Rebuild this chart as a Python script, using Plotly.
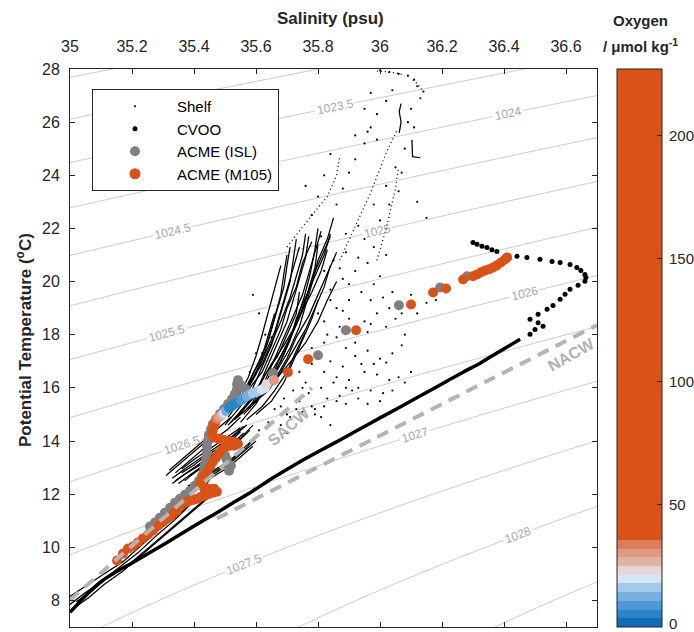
import numpy as np
import plotly.graph_objects as go

# ---------------- data ----------------
sal_ticks = [35, 35.2, 35.4, 35.6, 35.8, 36, 36.2, 36.4, 36.6]
temp_ticks = [8, 10, 12, 14, 16, 18, 20, 22, 24, 26, 28]
o2_ticks = [0, 50, 100, 150, 200]
density_start, density_end, density_step = 1022.5, 1028.5, 0.5

# CVOO: dense profile (drawn as a connected line) and sparse warm-water points
cvoo_line_S = [35.000, 35.048, 35.097, 35.145, 35.203, 35.258, 35.313, 35.371, 35.419, 35.474,
               35.526, 35.581, 35.635, 35.687, 35.742, 35.806, 35.871, 35.935, 36.000, 36.065,
               36.129, 36.194, 36.268, 36.323, 36.387, 36.452]
cvoo_line_T = [7.55, 8.15, 8.68, 9.05, 9.43, 9.80, 10.18, 10.59, 10.93, 11.30,
               11.68, 12.05, 12.47, 12.84, 13.22, 13.63, 14.04, 14.45, 14.87, 15.28,
               15.69, 16.11, 16.59, 16.93, 17.38, 17.83]
cvoo_dot_S = [36.484, 36.500, 36.484, 36.510, 36.526, 36.510, 36.539, 36.558, 36.581, 36.597,
              36.613, 36.639, 36.661, 36.664, 36.661, 36.648, 36.635, 36.613, 36.581, 36.555,
              36.516, 36.474, 36.442, 36.410, 36.377, 36.361, 36.345, 36.329, 36.313, 36.300]
cvoo_dot_T = [18.02, 18.20, 18.58, 18.45, 18.32, 18.77, 18.96, 19.10, 19.33, 19.52,
              19.71, 19.86, 20.01, 20.15, 20.27, 20.42, 20.53, 20.64, 20.72, 20.76,
              20.84, 20.91, 20.95, 20.98, 21.13, 21.20, 21.28, 21.33, 21.40, 21.47]

# Shelf: dense profiles (None separates profiles)
shelf_line_S = [
    35.000, 35.048, 35.097, 35.171, 35.226, 35.290, 35.355, 35.419, 35.452, None,
    35.000, 35.050, 35.100, 35.160, 35.220, 35.280, 35.340, 35.400, 35.440, None,
    35.020, 35.070, 35.120, 35.190, 35.250, 35.310, 35.370, 35.420, 35.470, None,
    35.010, 35.060, 35.110, 35.170, 35.230, 35.290, 35.350, 35.410, 35.460, None,
    35.33, 35.37, 35.42, 35.47, 35.52, 35.56, None,
    35.35, 35.39, 35.44, 35.49, 35.54, 35.58, None,
    35.36, 35.40, 35.45, 35.50, 35.55, None,
    35.38, 35.43, 35.48, 35.53, 35.57, 35.60, None,
    35.34, 35.38, 35.42, 35.46, 35.51, 35.55, None,
    35.40, 35.45, 35.50, 35.54, 35.58, None,
    35.32, 35.36, 35.40, 35.44, 35.48, 35.52, None,
    35.37, 35.41, 35.46, 35.51, 35.55, 35.59, None,
    35.39, 35.43, 35.47, 35.52, 35.56, None,
    35.34, 35.39, 35.43, 35.48, 35.53, None,
    35.41, 35.46, 35.51, 35.55, 35.59, None,
    35.33, 35.37, 35.42, 35.46, 35.51, 35.55, None,
    35.36, 35.40, 35.44, 35.49, 35.53, 35.57, None,
    35.31, 35.35, 35.39, 35.43, 35.47, None,
    35.42, 35.47, 35.52, 35.56, 35.60, None,
    35.50, 35.55, 35.59, 35.62, 35.65, 35.67, 35.69, 35.71, 35.72, 35.73, None,
    35.52, 35.57, 35.61, 35.64, 35.67, 35.70, 35.72, 35.74, 35.76, 35.77, None,
    35.54, 35.59, 35.63, 35.66, 35.69, 35.72, 35.75, 35.77, 35.79, 35.81, None,
    35.56, 35.61, 35.65, 35.68, 35.71, 35.74, 35.78, 35.81, 35.83, None,
    35.53, 35.57, 35.60, 35.63, 35.65, 35.67, 35.69, 35.70, 35.71, None,
    35.58, 35.63, 35.67, 35.71, 35.74, 35.76, 35.78, 35.80, 35.83, 35.85, None,
    35.60, 35.65, 35.69, 35.72, 35.75, 35.78, 35.80, None,
    35.55, 35.58, 35.61, 35.64, 35.66, 35.68, 35.69, 35.70, None,
    35.57, 35.62, 35.66, 35.70, 35.73, 35.76, None,
    35.51, 35.56, 35.60, 35.63, 35.66, 35.68, 35.70, 35.72, 35.74, None,
    35.55, 35.60, 35.64, 35.68, 35.71, 35.73, 35.76, 35.79, 35.82, 35.84, None,
    35.57, 35.62, 35.66, 35.69, 35.72, 35.75, 35.77, 35.79, 35.80, None,
    35.59, 35.64, 35.68, 35.72, 35.76, 35.79, 35.82, 35.84, None,
    35.54, 35.58, 35.62, 35.65, 35.68, 35.71, 35.73, 35.75, 35.76, None,
    35.61, 35.66, 35.70, 35.73, 35.77, 35.80, 35.83, 35.86, None,
    35.52, 35.56, 35.59, 35.62, 35.64, 35.66, None,
    35.50, 35.54, 35.575, 35.60, 35.62, 35.64, 35.66, 35.68, None,
    35.56, 35.61, 35.65, 35.69, 35.73, 35.76, 35.78, 35.81, 35.84, None,
    35.62, 35.67, 35.72, 35.76, 35.80, 35.83, 35.86, None,
    35.53, 35.58, 35.62, 35.66, 35.70, 35.73, 35.755, 35.775, 35.79, 35.80, None,
    35.58, 35.62, 35.65, 35.68, 35.70, 35.73, 35.75, 35.78, None,
    35.51, 35.55, 35.60, 35.63, 35.67, 35.70, 35.73, 35.74, None,
    36.062, 36.068, 36.062, 36.068, None,
    36.103, 36.103, 36.105, 36.130,
]
shelf_line_T = [
    8.15, 8.53, 8.90, 9.46, 10.03, 10.70, 11.26, 12.01, 12.58, None,
    7.85, 8.30, 8.70, 9.25, 9.80, 10.45, 11.05, 11.75, 12.30, None,
    7.95, 8.35, 8.85, 9.35, 9.95, 10.55, 11.15, 11.65, 12.20, None,
    7.70, 8.10, 8.60, 9.10, 9.70, 10.30, 10.90, 11.50, 12.00, None,
    12.60, 12.95, 13.35, 13.75, 14.15, 14.55, None,
    12.40, 12.75, 13.15, 13.55, 13.95, 14.40, None,
    12.95, 13.30, 13.70, 14.10, 14.50, None,
    12.30, 12.60, 12.95, 13.35, 13.75, 14.20, None,
    12.80, 13.20, 13.60, 14.00, 14.45, 14.90, None,
    12.45, 12.80, 13.15, 13.50, 13.95, None,
    12.90, 13.30, 13.70, 14.10, 14.50, 14.90, None,
    12.50, 12.90, 13.30, 13.70, 14.10, 14.60, None,
    12.70, 13.05, 13.45, 13.85, 14.30, None,
    12.50, 12.90, 13.25, 13.60, 14.00, None,
    12.30, 12.65, 13.00, 13.40, 13.80, None,
    12.40, 12.75, 13.10, 13.50, 13.90, 14.35, None,
    12.80, 13.10, 13.45, 13.80, 14.20, 14.60, None,
    12.70, 13.10, 13.50, 13.90, 14.30, None,
    12.50, 12.80, 13.20, 13.60, 14.00, None,
    14.6, 15.3, 16.0, 16.8, 17.6, 18.4, 19.2, 20.0, 20.8, 21.6, None,
    14.7, 15.4, 16.1, 16.9, 17.7, 18.5, 19.3, 20.1, 20.9, 21.7, None,
    14.9, 15.6, 16.3, 17.1, 17.9, 18.7, 19.5, 20.3, 21.1, 21.9, None,
    15.0, 15.6, 16.4, 17.2, 17.9, 18.7, 19.6, 20.4, 21.2, None,
    15.3, 15.9, 16.6, 17.4, 18.2, 19.0, 19.8, 20.6, 21.3, None,
    15.5, 16.0, 16.7, 17.5, 18.3, 19.1, 19.9, 20.8, 21.6, 22.4, None,
    15.0, 15.5, 16.2, 17.0, 17.8, 18.6, 19.3, None,
    15.6, 16.3, 17.0, 17.8, 18.6, 19.5, 20.3, 21.0, None,
    14.8, 15.3, 15.9, 16.6, 17.4, 18.1, None,
    14.9, 15.7, 16.5, 17.3, 18.1, 18.9, 19.7, 20.5, 21.3, None,
    14.7, 15.4, 16.2, 17.0, 17.8, 18.6, 19.4, 20.2, 21.0, 21.8, None,
    15.2, 15.8, 16.5, 17.3, 18.1, 18.9, 19.7, 20.5, 21.4, None,
    15.4, 15.9, 16.6, 17.4, 18.2, 19.0, 19.8, 20.6, None,
    15.5, 16.2, 16.9, 17.7, 18.5, 19.4, 20.2, 21.0, 21.8, None,
    15.6, 16.3, 17.1, 17.9, 18.7, 19.5, 20.3, 21.1, None,
    15.1, 15.8, 16.5, 17.2, 18.0, 18.8, None,
    14.9, 15.6, 16.4, 17.2, 18.0, 18.9, 19.8, 20.6, None,
    15.4, 16.1, 16.9, 17.6, 18.4, 19.3, 20.1, 20.9, 21.7, None,
    15.8, 16.4, 17.1, 17.7, 18.5, 19.3, 20.0, None,
    14.8, 15.3, 16.0, 16.8, 17.6, 18.5, 19.4, 20.3, 21.2, 22.0, None,
    16.0, 16.6, 17.4, 18.2, 19.0, 19.8, 20.7, 21.5, None,
    14.6, 15.1, 15.8, 16.5, 17.2, 18.0, 18.8, 19.6, None,
    25.6, 26.0, 26.4, 26.7, None,
    25.34, 25.0, 24.70, 24.66,
]
# Shelf: sparse warm profiles (dotted)
shelf_upper_S = [35.70, 35.76, 35.83, 35.86, 35.87, None,
                 35.87, 35.92, 35.97, 36.02, 36.055, None,
                 35.99, 36.02, 36.05, 36.06, None,
                 36.106, 36.120, 36.130, 36.139, None,
                 35.990, 36.020, 36.050, 36.070]
shelf_upper_T = [21.3, 22.2, 23.2, 24.0, 24.7, None,
                 20.8, 22.1, 23.35, 24.85, 25.7, None,
                 20.8, 22.0, 23.5, 24.3, None,
                 27.59, 27.45, 27.30, 27.14, None,
                 27.92, 27.90, 27.85, 27.80]
# Shelf: scattered single points
shelf_dot_S = [
    35.78, 35.82, 35.86, 35.90, 35.93, 35.97, 36.01, 36.04, 35.80, 35.84, 35.88, 35.95, 35.99,
    36.03, 36.06, 35.76, 35.72, 35.69, 35.74, 35.78, 35.83, 35.87, 35.91, 35.66, 35.70, 35.64,
    35.68, 35.61, 35.73, 35.85, 35.94, 36.00, 35.96, 35.89, 35.92, 35.98, 36.02, 35.62, 35.65,
    35.83, 35.87, 35.90, 35.95, 35.99, 36.03, 36.07, 35.86, 35.90, 35.94, 35.98, 35.84, 35.88,
    35.92, 35.96, 36.00, 36.04, 36.10, 36.15, 35.85, 35.89, 35.82, 35.80, 35.96, 36.02, 36.08,
    35.86, 35.88, 35.90, 35.92, 35.95, 35.97, 35.99, 36.02, 36.04, 36.00, 36.03, 36.06, 36.09,
    36.11, 36.12, 36.14, 36.13, 36.10, 36.09, 36.11, 36.08, 36.05, 36.02, 35.98, 35.93, 35.95,
    36.00, 36.03, 36.06, 35.78, 35.80, 35.82, 35.84, 35.76, 35.92, 35.95, 35.97, 36.07, 36.12,
    36.15, 35.96, 35.99, 35.58, 35.60, 35.63, 35.61, 35.59, 35.75, 35.79, 35.81, 35.84,
    35.71, 35.75, 35.79, 35.82, 35.86, 35.89, 35.93, 35.96, 36.00, 35.68, 35.77, 35.81, 35.89,
    36.08, 36.10, 35.74, 35.78, 35.82, 35.86, 35.93, 35.97, 36.05, 36.12, 36.18, 35.90, 35.97,
    36.01, 35.87, 35.93, 35.98, 36.02, 35.81, 35.89, 35.84, 35.88, 35.82, 35.92, 36.04, 36.07,
    35.70,
]
shelf_dot_T = [
    16.9, 16.6, 16.4, 16.3, 16.0, 15.9, 15.8, 15.9, 17.2, 17.0, 16.8, 16.6, 16.5,
    16.3, 16.4, 16.2, 15.9, 15.6, 15.5, 15.3, 15.6, 15.7, 15.9, 15.2, 15.0, 14.7,
    14.6, 14.4, 15.2, 16.2, 16.9, 17.1, 17.4, 17.5, 17.7, 16.9, 16.95, 17.3, 17.9,
    18.0, 18.3, 18.6, 18.5, 18.8, 19.0, 18.8, 19.0, 19.3, 19.6, 19.9, 19.7, 20.1,
    20.4, 20.7, 20.2, 19.6, 19.5, 19.2, 20.8, 21.1, 20.4, 18.8, 18.1, 18.3, 18.0,
    22.9, 23.5, 24.1, 24.6, 25.2, 25.8, 26.3, 26.8, 27.2, 27.95, 27.88, 27.82, 27.75,
    27.6, 27.35, 27.15, 26.9, 26.5, 26.0, 25.8, 25.0, 24.3, 23.6, 22.9, 22.1, 21.6,
    22.3, 22.9, 23.4, 22.5, 23.2, 24.0, 24.8, 23.6, 25.5, 26.5, 27.1, 24.1, 23.0,
    22.4, 25.64, 25.34, 16.6, 17.3, 18.0, 18.8, 19.5, 16.0, 15.2, 14.9, 14.6,
    14.9, 15.1, 15.0, 15.3, 15.5, 15.4, 15.6, 15.4, 15.5, 15.3, 15.8, 16.0, 16.0,
    16.2, 16.6, 16.6, 17.5, 17.7, 17.9, 18.2, 18.4, 18.6, 18.8, 19.3, 19.9, 19.3,
    19.4, 20.5, 20.9, 21.3, 21.0, 21.7, 21.8, 19.3, 18.9, 18.5, 17.2, 17.3, 17.6,
    14.3,
]

# ACME (ISL) and ACME (M105, colour = oxygen)
isl_S = [35.258, 35.274, 35.290, 35.306, 35.323, 35.339, 35.355, 35.371, 35.387, 35.403,
         35.416, 35.426, 35.432, 35.435, 35.439, 35.442, 35.442, 35.445, 35.448, 35.455,
         35.461, 35.471, 35.484, 35.497, 35.510, 35.523, 35.532, 35.539, 35.539, 35.542,
         35.555, 35.568, 35.506, 35.519, 35.513, 35.500,
         35.655, 35.800, 35.890, 36.061, 36.194, 36.281]
isl_T = [10.78, 10.93, 11.11, 11.30, 11.49, 11.68, 11.83, 11.98, 12.13, 12.32,
         12.50, 12.69, 12.88, 13.10, 13.33, 13.55, 13.78, 14.00, 14.23, 14.45,
         14.64, 14.83, 15.02, 15.20, 15.39, 15.58, 15.77, 15.95, 16.14, 16.29,
         16.07, 15.95, 13.29, 13.07, 12.88, 13.45,
         16.56, 17.23, 18.17, 19.11, 19.78, 20.20]

m105_S = [35.152, 35.171, 35.187, 35.203, 35.219, 35.235, 35.252, 35.268, 35.284, 35.300,
          35.313, 35.323, 35.335, 35.345, 35.355, 35.365, 35.377, 35.387, 35.400, 35.410,
          35.423, 35.435, 35.448, 35.461, 35.474, 35.465, 35.448, 35.432, 35.419, 35.426,
          35.432, 35.442, 35.452, 35.461, 35.471, 35.481, 35.490, 35.503, 35.516, 35.529,
          35.542, 35.529, 35.513, 35.497, 35.481, 35.465, 35.458, 35.461, 35.465, 35.468,
          35.474, 35.481, 35.490, 35.497, 35.503, 35.513, 35.523, 35.532, 35.542, 35.552,
          35.561, 35.571, 35.581, 35.590, 35.600, 35.610, 35.619, 35.629, 35.635, 35.658,
          35.703, 35.768, 35.923, 36.100, 36.171, 36.213, 36.268, 36.300, 36.313, 36.326,
          36.339, 36.352, 36.365, 36.377, 36.390, 36.403, 36.410]
m105_T = [9.50, 9.76, 9.95, 10.03, 10.18, 10.33, 10.48, 10.63, 10.81, 10.96,
          11.08, 11.15, 11.30, 11.38, 11.53, 11.64, 11.71, 11.75, 11.79, 11.83,
          11.90, 11.94, 12.01, 12.05, 12.09, 12.20, 12.20, 12.24, 12.39, 12.54,
          12.69, 12.84, 13.03, 13.22, 13.37, 13.55, 13.67, 13.78, 13.82, 13.82,
          13.89, 13.97, 14.00, 14.04, 14.08, 14.12, 14.27, 14.42, 14.57, 14.68,
          14.83, 14.90, 14.98, 15.05, 15.13, 15.24, 15.32, 15.39, 15.47, 15.54,
          15.62, 15.69, 15.75, 15.80, 15.84, 15.88, 15.94, 16.00, 16.14, 16.29,
          16.59, 17.08, 18.17, 19.14, 19.59, 19.74, 20.08, 20.20, 20.27, 20.35,
          20.42, 20.46, 20.53, 20.61, 20.72, 20.83, 20.91]
m105_O2 = [205, 203, 200, 198, 196, 193, 190, 188, 185, 182,
           180, 178, 176, 172, 170, 168, 165, 162, 160, 158,
           155, 152, 150, 148, 146, 140, 135, 130, 125, 120,
           115, 110, 105, 100, 95, 90, 85, 80, 78, 75,
           72, 70, 66, 62, 58, 52, 48, 44, 40, 38,
           32, 29, 25, 21, 14, 6, 4, 5, 7, 9,
           10, 12, 13, 15, 16, 17, 19, 20, 24, 29,
           60, 90, 140, 170, 185, 190, 195, 198, 200, 202,
           204, 205, 206, 207, 208, 209, 210]

# water-mass reference lines
sacw_S = [34.95, 35.78]
sacw_T = [7.50, 16.00]
nacw_S = [35.474, 36.70]
nacw_T = [11.08, 18.36]

# oxygen colour map (64 levels over 0-227, lowest 10 levels diverge blue-white-orange)
o2_max = 227
o2_low_colors = ['#0f6db6', '#2a84c7', '#4e98d3', '#77b0de', '#a4cae9',
                 '#d3e5f6', '#e2d8da', '#dfb2a5', '#df9a82', '#dc7c5c']
orange = '#D95319'
n_levels = 64

# ---------------- helpers ----------------
def seawater_density(S, T):
    """UNESCO (1981) one-atmosphere equation of state, kg m^-3."""
    rw = (999.842594 + 6.793952e-2 * T - 9.095290e-3 * T**2 + 1.001685e-4 * T**3
          - 1.120083e-6 * T**4 + 6.536332e-9 * T**5)
    a = 0.824493 - 4.0899e-3 * T + 7.6438e-5 * T**2 - 8.2467e-7 * T**3 + 5.3875e-9 * T**4
    b = -5.72466e-3 + 1.0227e-4 * T - 1.6546e-6 * T**2
    return rw + a * S + b * S**1.5 + 4.8314e-4 * S**2

grid_S = np.linspace(34.9, 36.8, 160)
grid_T = np.linspace(6.5, 28.5, 180)
SS, TT = np.meshgrid(grid_S, grid_T)
RHO = seawater_density(SS, TT)

colorscale = []
for i in range(n_levels):
    c = o2_low_colors[i] if i < len(o2_low_colors) else orange
    colorscale.append([i / n_levels, c])
    colorscale.append([(i + 1) / n_levels, c])

FONT = 'Liberation Sans, Arial, Helvetica, sans-serif'
DARK = '#262626'

# pixel layout of the figure
W, H = 694, 632
L, R, T_, B = 70, 597, 69, 627
pw, ph = R - L, B - T_

def px_x(px):
    return (px - L) / pw

def px_y(py):
    return 1 - (py - T_) / ph

fig = go.Figure()

fig.add_trace(go.Contour(
    x=grid_S, y=grid_T, z=RHO, showscale=False, hoverinfo='skip', showlegend=False,
    contours=dict(start=density_start, end=density_end, size=density_step,
                  coloring='none', showlabels=True, labelformat='.5~g',
                  labelfont=dict(size=12, color='#a8a8a8', family=FONT)),
    line=dict(color='#c4c4c4', width=0.9),
))

# Shelf
fig.add_trace(go.Scatter(x=shelf_line_S, y=shelf_line_T, mode='lines',
                         line=dict(color='black', width=1.25), showlegend=False,
                         hoverinfo='skip'))
fig.add_trace(go.Scatter(x=shelf_upper_S, y=shelf_upper_T, mode='lines',
                         line=dict(color='black', width=1.3, dash='1px,3px'),
                         showlegend=False, hoverinfo='skip'))
fig.add_trace(go.Scatter(x=shelf_dot_S, y=shelf_dot_T, mode='markers', name='Shelf',
                         marker=dict(color='black', size=2.2)))
# CVOO
fig.add_trace(go.Scatter(x=cvoo_line_S, y=cvoo_line_T, mode='lines',
                         line=dict(color='black', width=3.5, shape='spline', smoothing=0.6),
                         showlegend=False, hoverinfo='skip'))
fig.add_trace(go.Scatter(x=cvoo_dot_S, y=cvoo_dot_T, mode='markers', name='CVOO',
                         marker=dict(color='black', size=5)))
# ACME ISL
fig.add_trace(go.Scatter(x=isl_S, y=isl_T, mode='markers', name='ACME (ISL)',
                         marker=dict(color='#808080', size=10)))
# legend entry for M105
fig.add_trace(go.Scatter(x=[None], y=[None], mode='markers', name='ACME (M105)',
                         marker=dict(color=orange, size=11)))
fig.add_trace(go.Scatter(
    x=m105_S, y=m105_T, mode='markers', showlegend=False,
    marker=dict(color=m105_O2, colorscale=colorscale, cmin=0, cmax=o2_max, size=10,
                showscale=True,
                colorbar=dict(x=px_x(617), xanchor='left', y=0.5, yanchor='middle',
                              len=1, lenmode='fraction', thickness=45, xpad=0, ypad=0,
                              outlinecolor=DARK, outlinewidth=1,
                              tickvals=o2_ticks, ticks='inside', ticklen=5,
                              tickcolor=DARK, showticklabels=False))))

# water masses
dash = '12px,8px'
fig.add_trace(go.Scatter(x=sacw_S, y=sacw_T, mode='lines', showlegend=False, hoverinfo='skip',
                         line=dict(color='#b4b4b4', width=4, dash=dash)))
fig.add_trace(go.Scatter(x=nacw_S, y=nacw_T, mode='lines', showlegend=False, hoverinfo='skip',
                         line=dict(color='#b4b4b4', width=4, dash=dash)))

annos = [
    dict(text='<b>SACW</b>', x=35.706, y=14.55, xref='x', yref='y',
         textangle=-41, font=dict(size=16, color='#b0b0b0', family=FONT)),
    dict(text='<b>NACW</b>', x=36.618, y=17.25, xref='x', yref='y',
         textangle=-30, font=dict(size=16, color='#b0b0b0', family=FONT)),
    dict(text='<b>Salinity (psu)</b>', x=px_x(330), y=px_y(19),
         xref='paper', yref='paper', font=dict(size=17, color=DARK, family=FONT)),
    dict(text='<b>Potential Temperature (<sup>o</sup>C)</b>', x=px_x(24), y=px_y(340),
         xref='paper', yref='paper', textangle=-90,
         font=dict(size=17, color=DARK, family=FONT)),
    dict(text='<b>Oxygen</b>', x=px_x(640), y=px_y(20),
         xref='paper', yref='paper', font=dict(size=15, color=DARK, family=FONT)),
    dict(text='<b>/ μmol kg<sup>-1</sup></b>', x=px_x(640), y=px_y(45),
         xref='paper', yref='paper', font=dict(size=15, color=DARK, family=FONT)),
]
# colorbar tick labels (the lowest one nudged up so it stays inside the page)
for v in o2_ticks:
    yv = max(v / o2_max, px_y(623))
    annos.append(dict(text=str(v), x=px_x(667), y=yv, xref='paper', yref='paper',
                      xanchor='left', font=dict(size=15, color=DARK, family=FONT)))
for a in annos:
    a.setdefault('xanchor', 'center')
    a.setdefault('yanchor', 'middle')
    a['showarrow'] = False

axis_common = dict(showline=True, linecolor=DARK, linewidth=1, mirror='ticks',
                   ticks='inside', ticklen=5, tickcolor=DARK, showgrid=False, zeroline=False,
                   tickfont=dict(size=16, color=DARK, family=FONT))

fig.update_layout(
    width=W, height=H,
    margin=dict(l=L, r=W - R, t=T_, b=H - B),
    paper_bgcolor='white', plot_bgcolor='white',
    font=dict(family=FONT, color=DARK),
    xaxis=dict(range=[35, 36.7], side='top', tickvals=sal_ticks, ticklabelstandoff=10,
               **axis_common),
    yaxis=dict(range=[7, 28], tickvals=temp_ticks, ticklabelstandoff=6, **axis_common),
    legend=dict(x=px_x(92), y=px_y(89), xanchor='left', yanchor='top',
                bgcolor='white', bordercolor=DARK, borderwidth=1, tracegroupgap=0,
                font=dict(size=15, color='black', family=FONT), itemwidth=74),
    annotations=annos,
    showlegend=True,
)

fig.write_html("out.html")
